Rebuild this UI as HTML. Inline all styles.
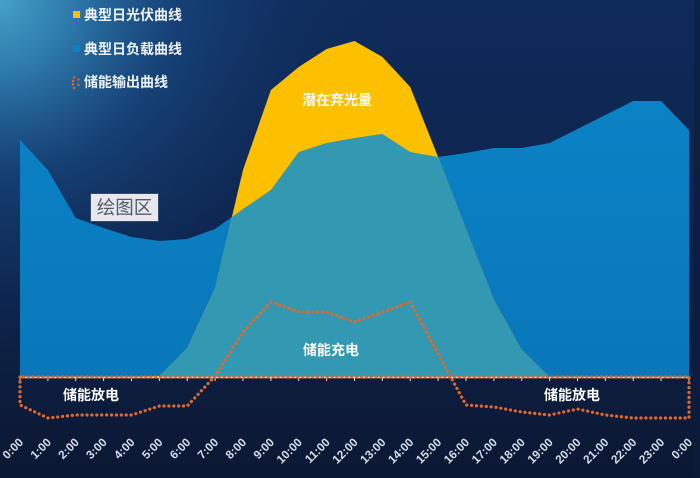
<!DOCTYPE html>
<html><head><meta charset="utf-8">
<style>
html,body{margin:0;padding:0;background:#0d2450;}
svg{display:block;}
text{font-family:"Liberation Sans","Noto Sans CJK SC",sans-serif;}
</style></head>
<body>
<svg width="700" height="478" viewBox="0 0 700 478" xmlns="http://www.w3.org/2000/svg">
<defs>
<linearGradient id="bgv" x1="0" y1="0" x2="0" y2="1">
<stop offset="0" stop-color="#0f2b5b"/>
<stop offset="0.55" stop-color="#0d2249"/>
<stop offset="1" stop-color="#0b1833"/>
</linearGradient>
<radialGradient id="bgr" cx="0" cy="0" r="420" gradientUnits="userSpaceOnUse">
<stop offset="0" stop-color="#44a3c9" stop-opacity="1"/>
<stop offset="0.18" stop-color="#2f80b2" stop-opacity="0.9"/>
<stop offset="0.42" stop-color="#1a4f88" stop-opacity="0.6"/>
<stop offset="0.75" stop-color="#123a70" stop-opacity="0.15"/>
<stop offset="1" stop-color="#0f2b5b" stop-opacity="0"/>
</radialGradient>
<linearGradient id="load" x1="0" y1="0" x2="0" y2="1">
<stop offset="0" stop-color="#0b82c5"/>
<stop offset="1" stop-color="#0977ba"/>
</linearGradient>
</defs>
<rect x="0" y="0" width="700" height="478" fill="url(#bgv)"/>
<rect x="0" y="0" width="700" height="478" fill="url(#bgr)"/>
<rect x="694" y="0" width="6" height="478" fill="#0b1c3c" opacity="0.6"/>

<polygon fill="url(#load)" points="20,377 20,140 47.9,170 75.75,218 103.6,228 131.5,237 159.4,241 187.25,239 215.1,229 243,209 270.9,190 298.75,152 326.6,143 354.5,138 382.4,134 410.25,152 438.1,157 466,153 493.9,148 521.75,148 549.6,143 577.5,129 605.4,115 633.25,101 661.1,101 689,130 689,377"/>
<polygon fill="#fdc000" points="131.5,377 159.4,376 187.25,348 215.1,288 243,170 270.9,90 298.75,67 326.6,49 354.5,41 382.4,57 410.25,87 438.1,157 466,229 493.9,300 521.75,350 549.6,377"/>
<polygon fill="#3398b1" points="159.4,377 159.4,376 187.25,348 215.1,288 231.9,217 243,209 270.9,190 298.75,152 326.6,143 354.5,138 382.4,134 410.25,152 438.1,157 466,229 493.9,300 521.75,350 549.6,377"/>

<line x1="20" y1="377.5" x2="689" y2="377.5" stroke="#f1ddd4" stroke-width="1.4"/>
<g stroke="#f1ddd4" stroke-width="1">
<line x1="20" y1="377" x2="20" y2="381"/><line x1="47.9" y1="377" x2="47.9" y2="381"/><line x1="75.75" y1="377" x2="75.75" y2="381"/><line x1="103.6" y1="377" x2="103.6" y2="381"/><line x1="131.5" y1="377" x2="131.5" y2="381"/><line x1="159.4" y1="377" x2="159.4" y2="381"/><line x1="187.25" y1="377" x2="187.25" y2="381"/><line x1="215.1" y1="377" x2="215.1" y2="381"/><line x1="243" y1="377" x2="243" y2="381"/><line x1="270.9" y1="377" x2="270.9" y2="381"/><line x1="298.75" y1="377" x2="298.75" y2="381"/><line x1="326.6" y1="377" x2="326.6" y2="381"/><line x1="354.5" y1="377" x2="354.5" y2="381"/><line x1="382.4" y1="377" x2="382.4" y2="381"/><line x1="410.25" y1="377" x2="410.25" y2="381"/><line x1="438.1" y1="377" x2="438.1" y2="381"/><line x1="466" y1="377" x2="466" y2="381"/><line x1="493.9" y1="377" x2="493.9" y2="381"/><line x1="521.75" y1="377" x2="521.75" y2="381"/><line x1="549.6" y1="377" x2="549.6" y2="381"/><line x1="577.5" y1="377" x2="577.5" y2="381"/><line x1="605.4" y1="377" x2="605.4" y2="381"/><line x1="633.25" y1="377" x2="633.25" y2="381"/><line x1="661.1" y1="377" x2="661.1" y2="381"/><line x1="689" y1="377" x2="689" y2="381"/>
</g>

<path fill="none" stroke="#e3682e" stroke-width="3.2" stroke-linecap="round" stroke-linejoin="round" stroke-dasharray="0.1 4.8" d="M20,377 L20,405 L47.9,418 L75.75,415 L103.6,415 L131.5,415 L159.4,406 L187.25,406 L215.1,376 L243,332 L270.9,302 L298.75,312 L326.6,312 L354.5,322 L382.4,312 L410.25,302 L438.1,354 L466,405 L493.9,407 L521.75,412 L549.6,415 L577.5,409 L605.4,415 L633.25,418 L661.1,418 L689,418 L689,377 Z"/>

<g fill="#ffffff" font-weight="bold" font-size="14">
<text x="337" y="105" text-anchor="middle">潜在弃光量</text>
<text x="331" y="355" text-anchor="middle">储能充电</text>
<text x="91" y="400" text-anchor="middle">储能放电</text>
<text x="572" y="400" text-anchor="middle">储能放电</text>
</g>

<rect x="90.5" y="193.5" width="68" height="28" fill="#e6e8ee" stroke="#3b4a66" stroke-width="1"/>
<text x="124.5" y="214" text-anchor="middle" font-size="18.5" fill="#555a65">绘图区</text>

<rect x="73" y="11" width="7" height="7" fill="#fdc000"/>
<text x="84" y="20" font-size="14" font-weight="bold" fill="#eef3fa">典型日光伏曲线</text>
<rect x="73" y="45" width="7" height="7" fill="#0a80c6"/>
<text x="84" y="54" font-size="14" font-weight="bold" fill="#eef3fa">典型日负载曲线</text>
<g fill="#e3682e">
<circle cx="74" cy="77.5" r="1.2"/><circle cx="73" cy="81" r="1.2"/><circle cx="73" cy="84.5" r="1.2"/><circle cx="74" cy="88" r="1.2"/>
<circle cx="78.5" cy="79.5" r="1.2"/><circle cx="78.5" cy="85" r="1.2"/>
</g>
<text x="84" y="87" font-size="14" font-weight="bold" fill="#eef3fa">储能输出曲线</text>

<g fill="#d6dde9" font-size="11.8" font-weight="bold" text-anchor="end">
<text transform="translate(24,443) rotate(-45)">0:00</text>
<text transform="translate(51.9,443) rotate(-45)">1:00</text>
<text transform="translate(79.75,443) rotate(-45)">2:00</text>
<text transform="translate(107.6,443) rotate(-45)">3:00</text>
<text transform="translate(135.5,443) rotate(-45)">4:00</text>
<text transform="translate(163.4,443) rotate(-45)">5:00</text>
<text transform="translate(191.25,443) rotate(-45)">6:00</text>
<text transform="translate(219.1,443) rotate(-45)">7:00</text>
<text transform="translate(247,443) rotate(-45)">8:00</text>
<text transform="translate(274.9,443) rotate(-45)">9:00</text>
<text transform="translate(302.75,443) rotate(-45)">10:00</text>
<text transform="translate(330.6,443) rotate(-45)">11:00</text>
<text transform="translate(358.5,443) rotate(-45)">12:00</text>
<text transform="translate(386.4,443) rotate(-45)">13:00</text>
<text transform="translate(414.25,443) rotate(-45)">14:00</text>
<text transform="translate(442.1,443) rotate(-45)">15:00</text>
<text transform="translate(470,443) rotate(-45)">16:00</text>
<text transform="translate(497.9,443) rotate(-45)">17:00</text>
<text transform="translate(525.75,443) rotate(-45)">18:00</text>
<text transform="translate(553.6,443) rotate(-45)">19:00</text>
<text transform="translate(581.5,443) rotate(-45)">20:00</text>
<text transform="translate(609.4,443) rotate(-45)">21:00</text>
<text transform="translate(637.25,443) rotate(-45)">22:00</text>
<text transform="translate(665.1,443) rotate(-45)">23:00</text>
<text transform="translate(693,443) rotate(-45)">0:00</text>
</g>
</svg>
</body></html>
